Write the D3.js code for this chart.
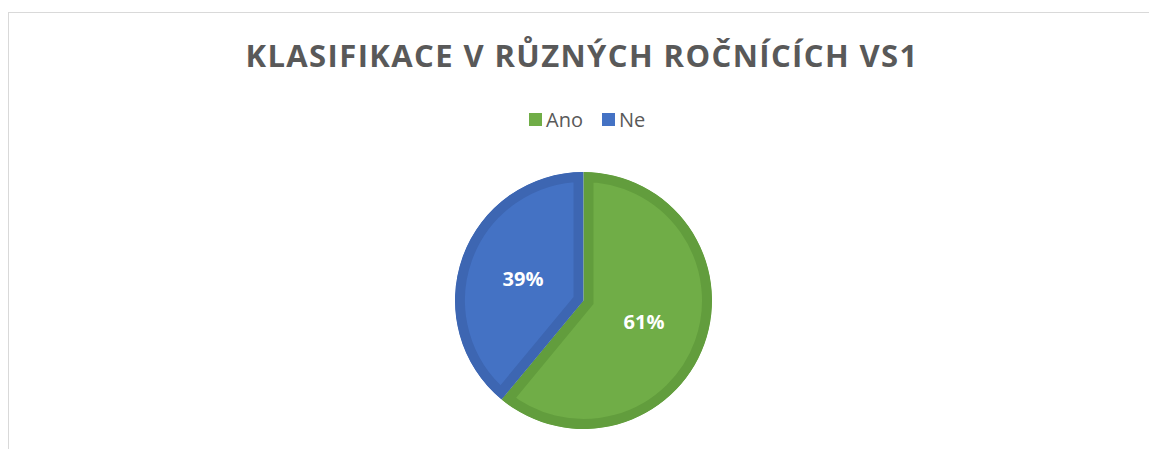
<!DOCTYPE html>
<html>
<head>
<meta charset="utf-8">
<script src="https://cdn.jsdelivr.net/npm/d3@7"></script>
<style>
  body { margin: 0; background: #fff; }
  text { font-family: "Open Sans", sans-serif; }
</style>
</head>
<body>
<div id="chart"></div>
<script>
var svgWidth = 1149;
var svgHeight = 449;

// data
var categories = ["Ano", "Ne"];
var values = [61, 39];
var colors = ["#70ad47", "#4472c4"];
var borderColors = ["#629d3d", "#3d66b2"];
var titleText = "KLASIFIKACE V RŮZNÝCH ROČNÍCÍCH VS1";

var cx = 583.5, cy = 300.5, radius = 128.5;

var svg = d3.select("#chart")
    .append("svg")
    .attr("width", svgWidth)
    .attr("height", svgHeight);

// chart area frame (runs off the right and bottom edges)
svg.append("rect")
    .attr("x", 8.5)
    .attr("y", 12.5)
    .attr("width", svgWidth + 10)
    .attr("height", svgHeight + 10)
    .attr("fill", "none")
    .attr("stroke", "#d9d9d9")
    .attr("stroke-width", 1);

svg.append("text")
    .attr("x", 582)
    .attr("y", 67)
    .attr("text-anchor", "middle")
    .style("font-size", "31px")
    .style("font-weight", "bold")
    .style("letter-spacing", "1.4px")
    .attr("fill", "#595959")
    .text(titleText);

// legend
var legendX = [529, 602];
var legend = svg.selectAll("g.legend")
    .data(categories)
    .enter().append("g")
    .attr("class", "legend")
    .attr("transform", function(d, i) { return "translate(" + legendX[i] + ",113)"; });

legend.append("rect")
    .attr("width", 13)
    .attr("height", 13)
    .attr("fill", function(d, i) { return colors[i]; });

legend.append("text")
    .attr("x", 17)
    .attr("y", 14)
    .style("font-size", "20px")
    .attr("fill", "#595959")
    .text(function(d) { return d; });

// pie
var pie = d3.pie().sort(null).value(function(d) { return d; });
var arcs = pie(values);
var arc = d3.arc().innerRadius(0).outerRadius(radius);
var labelArc = d3.arc().innerRadius(radius * 0.5).outerRadius(radius * 0.5);

var chart = svg.append("g")
    .attr("transform", "translate(" + cx + "," + cy + ")");

var defs = svg.append("defs");
defs.selectAll("clipPath")
    .data(arcs)
    .enter().append("clipPath")
    .attr("id", function(d, i) { return "clip" + i; })
    .append("path")
    .attr("d", arc);

// slices with the darker border kept inside each slice
chart.selectAll("path.slice")
    .data(arcs)
    .enter().append("path")
    .attr("class", "slice")
    .attr("d", arc)
    .attr("fill", function(d, i) { return colors[i]; })
    .attr("stroke", function(d, i) { return borderColors[i]; })
    .attr("stroke-width", 20)
    .attr("stroke-linejoin", "miter")
    .attr("clip-path", function(d, i) { return "url(#clip" + i + ")"; });

chart.selectAll("text.label")
    .data(arcs)
    .enter().append("text")
    .attr("class", "label")
    .attr("transform", function(d) { return "translate(" + labelArc.centroid(d) + ")"; })
    .attr("text-anchor", "middle")
    .attr("dy", "0.36em")
    .style("font-size", "20px")
    .style("font-weight", "bold")
    .attr("fill", "#ffffff")
    .text(function(d) { return d.data + "%"; });
</script>
</body>
</html>
